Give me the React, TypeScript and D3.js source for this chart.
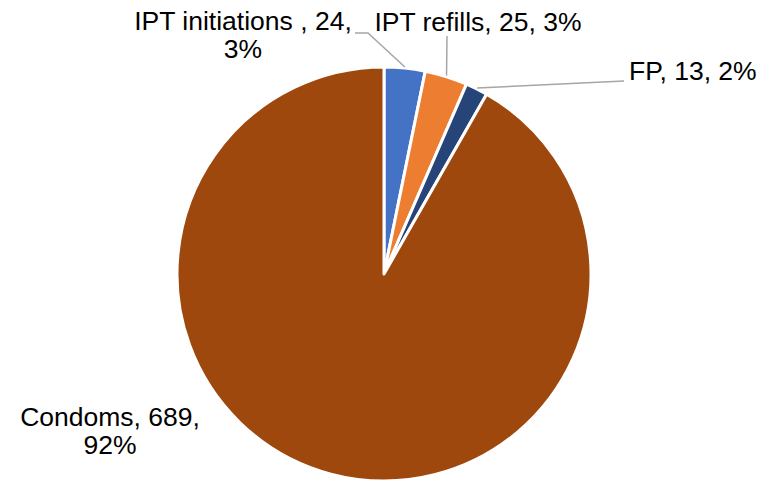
import React from "react";
import * as d3 from "d3";

const categories = ["IPT initiations ", "IPT refills", "FP", "Condoms"];
const values = [24, 25, 13, 689];
const colors = ["#4472C4", "#ED7D31", "#264478", "#9E480E"];

// Label placement (text anchor, line break, leader elbow) per slice
const labelLayout = [
  { x: 243, y: 30, lines: 2, anchor: "middle", leader: [[368, 33], [355, 33]] },
  { x: 478, y: 31, lines: 1, anchor: "middle", leader: [[447, 36]] },
  { x: 629, y: 80, lines: 1, anchor: "start", leader: [[624, 81]] },
  { x: 110, y: 426, lines: 2, anchor: "middle", leader: [] },
];

const W = 773;
const H = 482;
const cx = 384;
const cy = 274;
const R = 207;
const lineGap = 28;

export default function App() {
  const total = d3.sum(values);
  const pie = d3.pie<number>().sort(null).value((d) => d);
  const arcs = pie(values);
  const arc = d3.arc<d3.PieArcDatum<number>>().innerRadius(0).outerRadius(R);
  const font = "'Liberation Sans', Arial, sans-serif";

  return (
    <svg
      width={W}
      height={H}
      style={{ position: "absolute", left: 0, top: 0, background: "#fff" }}
    >
      <g transform={`translate(${cx},${cy})`}>
        {arcs.map((a, i) => (
          <path key={i} d={arc(a) || ""} fill={colors[i]} stroke="#fff" strokeWidth={3} strokeLinejoin="round" />
        ))}
      </g>
      {arcs.map((a, i) => {
        const L = labelLayout[i];
        if (!L.leader.length) return null;
        const mid = (a.startAngle + a.endAngle) / 2;
        const px = cx + (R + 1) * Math.sin(mid);
        const py = cy - (R + 1) * Math.cos(mid);
        const pts = [[px, py], ...L.leader];
        return (
          <polyline
            key={i}
            points={pts.map((p) => p.join(",")).join(" ")}
            fill="none"
            stroke="#A6A6A6"
            strokeWidth={1.5}
          />
        );
      })}
      {arcs.map((a, i) => {
        const L = labelLayout[i];
        const pct = `${Math.round((values[i] / total) * 100)}%`;
        const head = `${categories[i]}, ${values[i]},`;
        const lines = L.lines === 2 ? [head, pct] : [`${head} ${pct}`];
        return (
          <g key={i}>
            {lines.map((t, j) => (
              <text
                key={j}
                x={L.x}
                y={L.y + j * lineGap}
                textAnchor={L.anchor as any}
                fontFamily={font}
                fontSize={26.5}
                fill="#000"
              >
                {t}
              </text>
            ))}
          </g>
        );
      })}
    </svg>
  );
}
